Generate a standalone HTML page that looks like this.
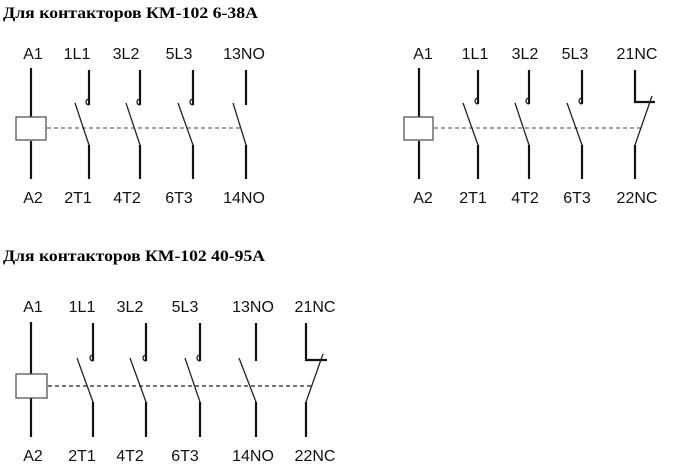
<!DOCTYPE html>
<html><head><meta charset="utf-8"><style>
html,body{margin:0;padding:0;background:#fff;width:681px;height:472px;overflow:hidden}
svg{display:block}
.t{font-family:"Liberation Serif",serif;font-weight:bold;font-size:16px;fill:#000}
.l{font-family:"Liberation Sans",sans-serif;font-size:16px;fill:#111;text-anchor:middle}
.w{stroke:#111;stroke-width:2.2;fill:none}
.s{stroke:#222;stroke-width:1.3;fill:none}
.d{stroke:#444;stroke-width:1;stroke-dasharray:4,3;fill:none}
.b{stroke:#555;stroke-width:1.3;fill:#fff}
</style></head><body>
<svg width="681" height="472" viewBox="0 0 681 472">
<text class="t" x="3" y="18" textLength="255" lengthAdjust="spacingAndGlyphs">Для контакторов КМ-102 6-38А</text>
<text class="t" x="3" y="261" textLength="262" lengthAdjust="spacingAndGlyphs">Для контакторов КМ-102 40-95А</text>

<!-- Diagram 1 -->
<g>
<text class="l" x="33" y="59">A1</text><text class="l" x="77" y="59">1L1</text><text class="l" x="126" y="59">3L2</text><text class="l" x="179" y="59">5L3</text><text class="l" x="244" y="59">13NO</text>
<text class="l" x="33" y="203">A2</text><text class="l" x="78" y="203">2T1</text><text class="l" x="127" y="203">4T2</text><text class="l" x="179" y="203">6T3</text><text class="l" x="244" y="203">14NO</text>
<line class="w" x1="31" y1="68" x2="31" y2="118"/><line class="w" x1="31" y1="141" x2="31" y2="179"/>
<rect class="b" x="16" y="117" width="30" height="23"/>
<line class="d" x1="47" y1="128" x2="240" y2="128"/>
<path class="w" d="M89 70V105"/><path class="s" d="M89 99a3 3 0 1 0 0 6"/><line class="s" x1="75" y1="103" x2="89" y2="145"/><line class="w" x1="89" y1="145" x2="89" y2="179"/>
<path class="w" d="M140 70V105"/><path class="s" d="M140 99a3 3 0 1 0 0 6"/><line class="s" x1="126" y1="103" x2="140" y2="145"/><line class="w" x1="140" y1="145" x2="140" y2="179"/>
<path class="w" d="M193 70V105"/><path class="s" d="M193 99a3 3 0 1 0 0 6"/><line class="s" x1="178" y1="103" x2="193" y2="145"/><line class="w" x1="193" y1="145" x2="193" y2="179"/>
<path class="w" d="M246 70V105"/><line class="s" x1="233" y1="103" x2="246" y2="145"/><line class="w" x1="246" y1="145" x2="246" y2="179"/>
</g>

<!-- Diagram 2 -->
<g>
<text class="l" x="423" y="59">A1</text><text class="l" x="475" y="59">1L1</text><text class="l" x="525" y="59">3L2</text><text class="l" x="575" y="59">5L3</text><text class="l" x="637" y="59">21NC</text>
<text class="l" x="423" y="203">A2</text><text class="l" x="473" y="203">2T1</text><text class="l" x="525" y="203">4T2</text><text class="l" x="577" y="203">6T3</text><text class="l" x="637" y="203">22NC</text>
<line class="w" x1="419" y1="68" x2="419" y2="118" stroke-width="3"/><line class="w" x1="419" y1="141" x2="419" y2="179" stroke-width="3"/>
<rect class="b" x="404" y="117" width="29" height="23"/>
<line class="d" x1="434" y1="128" x2="642" y2="128"/>
<path class="w" d="M478 70V104"/><path class="s" d="M478 98a3 3 0 1 0 0 6"/><line class="s" x1="463" y1="103" x2="478" y2="145"/><line class="w" x1="478" y1="145" x2="478" y2="179"/>
<path class="w" d="M529 70V104" stroke-width="3"/><path class="s" d="M529 98a3 3 0 1 0 0 6"/><line class="s" x1="515" y1="103" x2="529" y2="145"/><line class="w" x1="529" y1="145" x2="529" y2="179" stroke-width="3"/>
<path class="w" d="M582 70V104"/><path class="s" d="M582 98a3 3 0 1 0 0 6"/><line class="s" x1="567" y1="103" x2="582" y2="145"/><line class="w" x1="582" y1="145" x2="582" y2="179"/>
<path class="w" d="M635 70V102H655"/><line class="s" x1="652" y1="96" x2="635" y2="145"/><line class="w" x1="635" y1="145" x2="635" y2="179"/>
</g>

<!-- Diagram 3 -->
<g>
<text class="l" x="33" y="312">A1</text><text class="l" x="82" y="312">1L1</text><text class="l" x="130" y="312">3L2</text><text class="l" x="185" y="312">5L3</text><text class="l" x="253" y="312">13NO</text><text class="l" x="315" y="312">21NC</text>
<text class="l" x="33" y="461">A2</text><text class="l" x="82" y="461">2T1</text><text class="l" x="130" y="461">4T2</text><text class="l" x="185" y="461">6T3</text><text class="l" x="253" y="461">14NO</text><text class="l" x="315" y="461">22NC</text>
<line class="w" x1="31" y1="322" x2="31" y2="374"/><line class="w" x1="31" y1="398" x2="31" y2="437"/>
<rect class="b" x="16" y="374" width="31" height="24"/>
<line class="d" x1="48" y1="386" x2="313" y2="386" style="stroke:#222;stroke-width:1.3"/>
<path class="w" d="M93 323V361"/><path class="s" d="M93 355a3 3 0 1 0 0 6"/><line class="s" x1="77" y1="358" x2="93" y2="402"/><line class="w" x1="93" y1="402" x2="93" y2="437"/>
<path class="w" d="M146 323V361"/><path class="s" d="M146 355a3 3 0 1 0 0 6"/><line class="s" x1="130" y1="358" x2="146" y2="402"/><line class="w" x1="146" y1="402" x2="146" y2="437"/>
<path class="w" d="M200 323V361"/><path class="s" d="M200 355a3 3 0 1 0 0 6"/><line class="s" x1="185" y1="358" x2="200" y2="402"/><line class="w" x1="200" y1="402" x2="200" y2="437"/>
<path class="w" d="M256 323V361"/><line class="s" x1="239" y1="358" x2="256" y2="402"/><line class="w" x1="256" y1="402" x2="256" y2="437"/>
<path class="w" d="M306 323V360H327"/><line class="s" x1="323" y1="354" x2="306" y2="402"/><line class="w" x1="306" y1="402" x2="306" y2="437"/>
</g>
</svg>
</body></html>
